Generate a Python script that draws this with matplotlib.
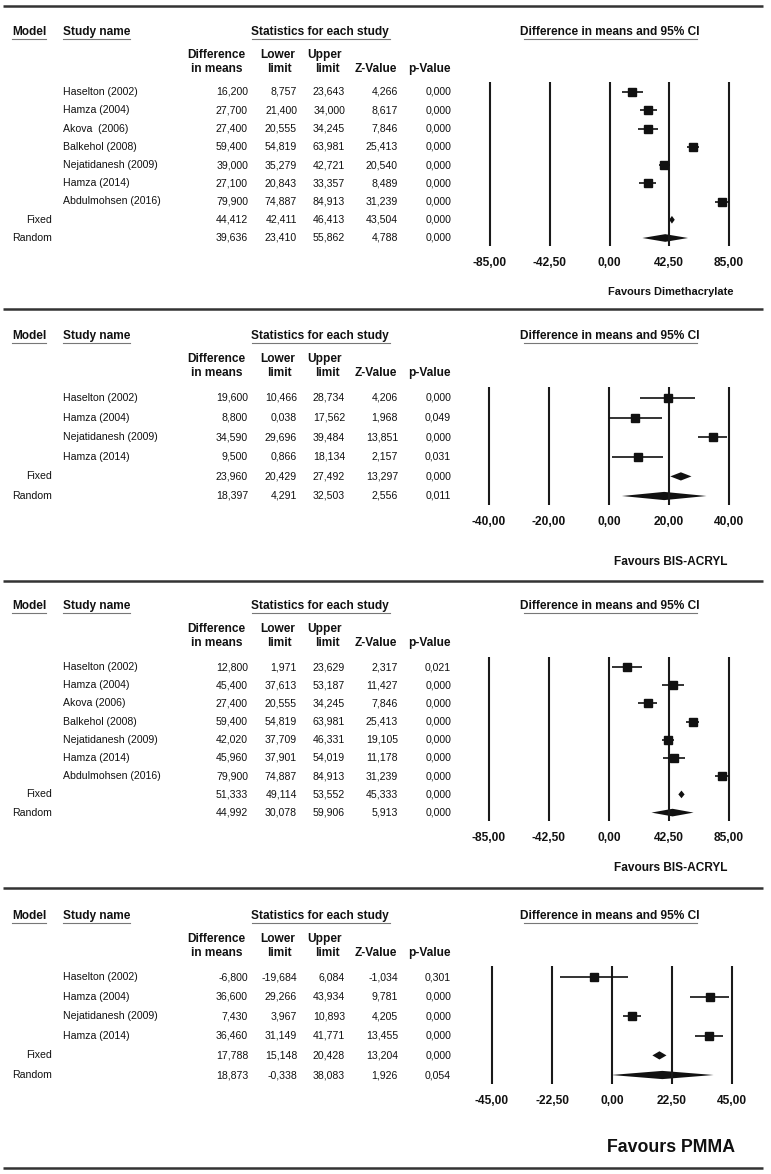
import matplotlib
matplotlib.use('Agg')
import matplotlib.pyplot as plt

plt.rcParams['font.family'] = ['Liberation Sans', 'DejaVu Sans']

W, H = 771, 1174

# panel 1 - favours dimethacrylate
p1_study = ["Haselton (2002)", "Hamza (2004)", "Akova  (2006)", "Balkehol (2008)",
            "Nejatidanesh (2009)", "Hamza (2014)", "Abdulmohsen (2016)"]
p1_diff = [16.200, 27.700, 27.400, 59.400, 39.000, 27.100, 79.900, 44.412, 39.636]
p1_lower = [8.757, 21.400, 20.555, 54.819, 35.279, 20.843, 74.887, 42.411, 23.410]
p1_upper = [23.643, 34.000, 34.245, 63.981, 42.721, 33.357, 84.913, 46.413, 55.862]
p1_z = [4.266, 8.617, 7.846, 25.413, 20.540, 8.489, 31.239, 43.504, 4.788]
p1_p = [0.000, 0.000, 0.000, 0.000, 0.000, 0.000, 0.000, 0.000, 0.000]
p1_ticks = [-85, -42.5, 0, 42.5, 85]

# panel 2 - favours BIS-ACRYL
p2_study = ["Haselton (2002)", "Hamza (2004)", "Nejatidanesh (2009)", "Hamza (2014)"]
p2_diff = [19.600, 8.800, 34.590, 9.500, 23.960, 18.397]
p2_lower = [10.466, 0.038, 29.696, 0.866, 20.429, 4.291]
p2_upper = [28.734, 17.562, 39.484, 18.134, 27.492, 32.503]
p2_z = [4.206, 1.968, 13.851, 2.157, 13.297, 2.556]
p2_p = [0.000, 0.049, 0.000, 0.031, 0.000, 0.011]
p2_ticks = [-40, -20, 0, 20, 40]

# panel 3 - favours BIS-ACRYL
p3_study = ["Haselton (2002)", "Hamza (2004)", "Akova (2006)", "Balkehol (2008)",
            "Nejatidanesh (2009)", "Hamza (2014)", "Abdulmohsen (2016)"]
p3_diff = [12.800, 45.400, 27.400, 59.400, 42.020, 45.960, 79.900, 51.333, 44.992]
p3_lower = [1.971, 37.613, 20.555, 54.819, 37.709, 37.901, 74.887, 49.114, 30.078]
p3_upper = [23.629, 53.187, 34.245, 63.981, 46.331, 54.019, 84.913, 53.552, 59.906]
p3_z = [2.317, 11.427, 7.846, 25.413, 19.105, 11.178, 31.239, 45.333, 5.913]
p3_p = [0.021, 0.000, 0.000, 0.000, 0.000, 0.000, 0.000, 0.000, 0.000]
p3_ticks = [-85, -42.5, 0, 42.5, 85]

# panel 4 - favours PMMA
p4_study = ["Haselton (2002)", "Hamza (2004)", "Nejatidanesh (2009)", "Hamza (2014)"]
p4_diff = [-6.800, 36.600, 7.430, 36.460, 17.788, 18.873]
p4_lower = [-19.684, 29.266, 3.967, 31.149, 15.148, -0.338]
p4_upper = [6.084, 43.934, 10.893, 41.771, 20.428, 38.083]
p4_z = [-1.034, 9.781, 4.205, 13.455, 13.204, 1.926]
p4_p = [0.301, 0.000, 0.000, 0.000, 0.000, 0.054]
p4_ticks = [-45, -22.5, 0, 22.5, 45]

INK = '#111111'


def fmt(v, nd=3):
    return f"{v:.{nd}f}".replace('.', ',')


fig = plt.figure(figsize=(W / 100, H / 100), dpi=100)
ov = fig.add_axes([0, 0, 1, 1])
ov.set_xlim(0, W)
ov.set_ylim(H, 0)
ov.axis('off')


def rule(y):
    ov.plot([3, 763], [y, y], color='#333333', lw=1.8, solid_capstyle='butt')


def uline(x0, x1, y):
    ov.plot([x0, x1], [y, y], color='#777777', lw=0.8)


def draw_panel(study, diff, lower, upper, z, p, ticks, hy, row0, dy, fx0, fx1,
               fav, fav_size, fav_y):
    bold = dict(fontweight='bold', fontsize=8.6, color=INK)
    ov.text(12, hy, "Model", ha='left', va='center', **bold)
    uline(12, 46, hy + 6.5)
    ov.text(63, hy, "Study name", ha='left', va='center', **bold)
    uline(63, 130, hy + 6.5)
    ov.text(320, hy, "Statistics for each study", ha='center', va='center', **bold)
    uline(252, 390, hy + 6.5)
    ov.text(610, hy, "Difference in means and 95% CI", ha='center', va='center', **bold)
    uline(524, 697, hy + 6.5)

    ov.text(216, hy + 23, "Difference", ha='center', va='center', **bold)
    ov.text(217, hy + 37, "in means", ha='center', va='center', **bold)
    ov.text(278, hy + 23, "Lower", ha='center', va='center', **bold)
    ov.text(279, hy + 37, "limit", ha='center', va='center', **bold)
    ov.text(325, hy + 23, "Upper", ha='center', va='center', **bold)
    ov.text(327, hy + 37, "limit", ha='center', va='center', **bold)
    ov.text(376, hy + 37, "Z-Value", ha='center', va='center', **bold)
    ov.text(429, hy + 37, "p-Value", ha='center', va='center', **bold)

    names = study + ["", ""]
    models = [""] * len(study) + ["Fixed", "Random"]
    n = len(names)
    reg = dict(fontsize=7.6, color=INK, va='center')
    for i in range(n):
        y = row0 + i * dy
        if models[i]:
            ov.text(52, y, models[i], ha='right', **reg)
        if names[i]:
            ov.text(63, y, names[i], ha='left', **reg)
        ov.text(248, y, fmt(diff[i]), ha='right', **reg)
        ov.text(297, y, fmt(lower[i]), ha='right', **reg)
        ov.text(345, y, fmt(upper[i]), ha='right', **reg)
        ov.text(398, y, fmt(z[i]), ha='right', **reg)
        ov.text(451, y, fmt(p[i]), ha='right', **reg)

    # forest plot
    top = row0 - 0.55 * dy
    bot = row0 + (n - 1 + 0.45) * dy
    ax = fig.add_axes([fx0 / W, 1 - bot / H, (fx1 - fx0) / W, (bot - top) / H])
    ax.patch.set_alpha(0)
    tmax = max(ticks)
    ax.set_xlim(-tmax, tmax)
    ax.set_ylim(n - 1 + 0.45, -0.55)
    for s in ax.spines.values():
        s.set_visible(False)
    ax.set_yticks([])
    ax.vlines(ticks, -0.55, n - 1 + 0.45, color='#1a1a1a', lw=1.5, clip_on=False)
    ns = len(study)
    for i in range(ns):
        ax.hlines(i, lower[i], upper[i], color=INK, lw=1.2, clip_on=False)
        ax.plot(diff[i], i, 's', ms=5.2, color=INK, clip_on=False)
    for i in range(ns, n):
        h = 0.21
        ax.fill([lower[i], diff[i], upper[i], diff[i]], [i, i - h, i, i + h],
                color=INK, lw=0, clip_on=False)
    ax.set_xticks(ticks, labels=[fmt(t, 2) for t in ticks])
    ax.tick_params(axis='x', length=0, pad=8, labelsize=8.6, colors=INK)
    for lbl in ax.get_xticklabels():
        lbl.set_fontweight('bold')

    ov.text(671, fav_y, fav, ha='center', va='center', fontweight='bold',
            fontsize=fav_size, color=INK)


rule(6)
draw_panel(p1_study, p1_diff, p1_lower, p1_upper, p1_z, p1_p, p1_ticks,
           32, 92, 18.25, 490, 729, "Favours Dimethacrylate", 7.9, 292)
rule(309)
draw_panel(p2_study, p2_diff, p2_lower, p2_upper, p2_z, p2_p, p2_ticks,
           336, 398, 19.6, 489, 729, "Favours BIS-ACRYL", 8.6, 562)
rule(581)
draw_panel(p3_study, p3_diff, p3_lower, p3_upper, p3_z, p3_p, p3_ticks,
           606, 667, 18.2, 489, 729, "Favours BIS-ACRYL", 8.6, 868)
rule(888)
draw_panel(p4_study, p4_diff, p4_lower, p4_upper, p4_z, p4_p, p4_ticks,
           916, 977, 19.6, 492, 732, "Favours PMMA", 12.8, 1148)
rule(1168)

fig.savefig('out.png', dpi=100)
